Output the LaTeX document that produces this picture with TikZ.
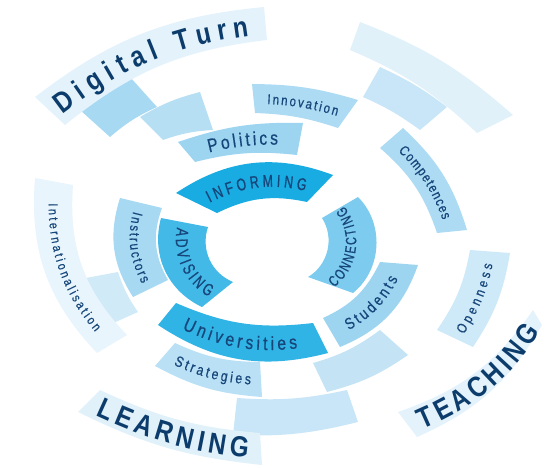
\documentclass[tikz,border=0pt]{standalone}
\usepackage{fontspec}
\setmainfont{Liberation Sans}
\newfontfamily\labelfont{Liberation Sans}[FakeStretch=0.82, FakeBold=0.6]
\newfontfamily\capsfont{Liberation Sans}[FakeStretch=0.72, FakeBold=0.8]
\newfontfamily\wordfont{Liberation Sans}[FakeStretch=0.84]
\usetikzlibrary{calc, decorations.text}

\definecolor{navy}{HTML}{16467A}
\definecolor{deepnavy}{HTML}{0C3C6C}
\definecolor{core}{HTML}{18ACE2}
\definecolor{coremid}{HTML}{30B3E5}
\definecolor{coreside}{HTML}{43B9E8}
\definecolor{corelight}{HTML}{7DCBEE}
\definecolor{mid}{HTML}{9DD5F1}
\definecolor{midlight}{HTML}{B6DFF4}
\definecolor{soft}{HTML}{C8E6F7}
\definecolor{pale}{HTML}{E4F3FB}

\newcommand\lbl[1]{\labelfont\fontsize{#1}{#1}\selectfont\color{navy}}
\newcommand\caps[1]{\capsfont\fontsize{#1}{#1}\selectfont\color{navy}}
\newcommand\bigword[1]{\wordfont\bfseries\fontsize{#1}{#1}\selectfont\color{deepnavy}}

% one piece of a ring: outer edge 1->2 (clockwise), inner edge 3->4
\newcommand\ringpiece[8]{%
  \coordinate (#1-1) at (#2); \coordinate (#1-2) at (#3);
  \coordinate (#1-3) at (#4); \coordinate (#1-4) at (#5);
  \fill[#8] (#1-1) to[bend left=#6] (#1-2) -- (#1-3) to[bend right=#7] (#1-4) -- cycle;}
% text reading clockwise / counterclockwise along a piece
\newcommand\cwtext[6]{%
  \path[ringtext={#4}{#5}, decoration={raise=#3, text={#6}}]
    ($(#1-4)!0.5!(#1-1)$) to[bend left=#2] ($(#1-2)!0.5!(#1-3)$);}
\newcommand\ccwtext[6]{%
  \path[ringtext={#4}{#5}, decoration={raise=#3, text={#6}}]
    ($(#1-2)!0.5!(#1-3)$) to[bend right=#2] ($(#1-4)!0.5!(#1-1)$);}

\tikzset{ringtext/.style 2 args={decorate, decoration={text along path,
    text align={left indent=#1pt, right indent=#2pt, fit to path}}}}

\begin{document}
\begin{tikzpicture}[x=1pt, y=1pt]
  \useasboundingbox (0,0) rectangle (549,-468);

  % blank pieces
  \ringpiece{pa}{80,-110}{130,-77}{157,-107}{110,-137}{8}{8}{mid!90!white}
  \ringpiece{pb}{140,-117}{200,-92}{213,-130}{163,-140}{8}{8}{midlight}
  \ringpiece{pc}{380,-67}{447,-107}{420,-130}{363,-97}{6}{6}{soft}
  \ringpiece{pe}{408,-355}{327,-392}{313,-363}{380,-330}{10}{10}{soft!90!mid}
  \ringpiece{pf}{358,-422}{233,-435}{237,-398}{347,-390}{8}{8}{soft}
  \ringpiece{pg}{102,-328}{75,-280}{118,-272}{138,-312}{8}{8}{soft!70!pale}

  % outer ring
  \ringpiece{dt}{35,-97}{264,-7}{267,-40}{65,-125}{16}{16}{pale}
  \ringpiece{pd}{360,-22}{513,-115}{477,-133}{350,-50}{10}{10}{pale!95!mid}
  \ringpiece{op}{510,-253}{473,-347}{437,-330}{470,-250}{12}{12}{soft!80!pale}
  \ringpiece{te}{542,-325}{417,-437}{398,-412}{533,-310}{18}{18}{pale}
  \ringpiece{le}{262,-465}{78,-412}{100,-390}{260,-433}{10}{10}{pale!85!soft}
  \ringpiece{it}{97,-353}{35,-178}{73,-185}{127,-335}{24}{24}{pale!80!white}

  % second ring
  \ringpiece{po}{178,-142}{303,-123}{297,-155}{195,-162}{10}{10}{mid}
  \ringpiece{in}{252,-84}{358,-100}{338,-128}{255,-113}{8}{8}{mid!85!white}
  \ringpiece{co}{403,-128}{467,-230}{437,-233}{380,-148}{15}{15}{mid!85!white}
  \ringpiece{st}{418,-265}{340,-347}{323,-318}{380,-262}{24}{20}{mid}
  \ringpiece{sg}{262,-397}{155,-366}{175,-343}{260,-362}{12}{12}{midlight!80!soft}
  \ringpiece{is}{133,-297}{120,-198}{162,-208}{168,-280}{25}{25}{mid!90!white}

  % inner ring
  \ringpiece{if}{176,-193}{333,-175}{307,-202}{217,-213}{27}{19}{core}
  \ringpiece{ad}{202,-307}{161,-218}{208,-227}{233,-282}{40}{43}{coreside}
  \ringpiece{cn}{358,-197}{353,-293}{308,-277}{322,-218}{48}{46}{corelight}
  \ringpiece{un}{328,-353}{158,-325}{176,-303}{313,-323}{24}{15}{coremid}

  % labels
  \cwtext{dt}{16}{-10.5pt}{8}{18}{|\bigword{29}|Digital Turn}
  \ccwtext{le}{10}{-10.5pt}{12}{12}{|\bigword{29}|LEARNING}
  \ccwtext{te}{18}{-10.5pt}{12}{10}{|\bigword{29}|TEACHING}
  \ccwtext{op}{12}{-5pt}{8}{12}{|\lbl{14}|Openness}
  \ccwtext{it}{24}{-4.5pt}{22}{20}{|\lbl{13}|Internationalisation}
  \cwtext{po}{10}{-6.5pt}{22}{22}{|\lbl{19}|Politics}
  \cwtext{in}{8}{-5pt}{14}{10}{|\lbl{14}|Innovation}
  \cwtext{co}{15}{-5pt}{14}{14}{|\lbl{14}|Competences}
  \ccwtext{st}{22}{-5.5pt}{16}{14}{|\lbl{16}|Students}
  \ccwtext{sg}{12}{-5.5pt}{12}{10}{|\lbl{15}|Strategies}
  \ccwtext{is}{25}{-5pt}{10}{8}{|\lbl{14}|Instructors}
  \cwtext{if}{23}{-6pt}{12}{14}{|\caps{17}|INFORMING}
  \ccwtext{ad}{41}{-6pt}{6}{6}{|\caps{17}|ADVISING}
  \ccwtext{cn}{47}{-4pt}{1}{1}{|\caps{15}|CONNECTING}
  \ccwtext{un}{20}{-6.5pt}{20}{24}{|\lbl{19}|Universities}
\end{tikzpicture}
\end{document}
